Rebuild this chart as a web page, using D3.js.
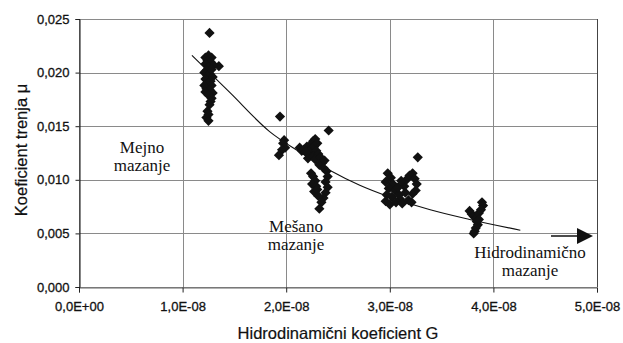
<!DOCTYPE html>
<html>
<head>
<meta charset="utf-8">
<script src="https://cdn.jsdelivr.net/npm/d3@7"></script>
<style>
  body { margin: 0; background: #fff; }
  svg { display: block; }
</style>
</head>
<body>
<svg width="623" height="343"></svg>
<script>
var boundaryPts = [
    [1.26,0.0237],[1.35,0.0206],
    [1.22,0.0214],[1.25,0.0216],[1.28,0.0214],[1.24,0.0211],[1.27,0.0210],[1.22,0.0208],
    [1.30,0.0207],[1.25,0.0205],[1.23,0.0202],[1.28,0.0203],[1.21,0.0200],[1.26,0.0199],
    [1.24,0.0197],[1.29,0.0196],[1.22,0.0194],[1.27,0.0192],[1.25,0.0190],[1.21,0.0188],
    [1.28,0.0188],[1.23,0.0185],[1.26,0.0184],[1.22,0.0182],[1.29,0.0181],[1.25,0.0179],
    [1.28,0.0176],[1.27,0.0173],[1.26,0.0170],[1.24,0.0164],[1.25,0.0161],[1.23,0.0158],
    [1.25,0.0155]
];
var mixedPts = [
    [1.94,0.0159],[1.98,0.0137],[1.97,0.0134],[1.99,0.0130],[1.96,0.0128],[1.93,0.0123],
    [2.13,0.0130],[2.15,0.0127],[2.17,0.0128],[2.20,0.0131],[2.22,0.0127],[2.24,0.0133],
    [2.26,0.0136],[2.28,0.0138],[2.23,0.0124],[2.19,0.0126],[2.25,0.0129],[2.27,0.0131],
    [2.30,0.0134],[2.29,0.0127],[2.21,0.0120],[2.26,0.0122],[2.31,0.0124],[2.28,0.0119],
    [2.33,0.0121],[2.35,0.0116],[2.32,0.0114],[2.37,0.0118],[2.36,0.0111],[2.41,0.0146],
    [2.39,0.0108],[2.40,0.0103],[2.38,0.0098],[2.40,0.0093],[2.38,0.0088],[2.36,0.0083],
    [2.34,0.0079],[2.24,0.0106],[2.26,0.0103],[2.28,0.0099],[2.25,0.0096],[2.29,0.0094],
    [2.27,0.0089],[2.30,0.0091],[2.31,0.0085],[2.32,0.0073]
];
var transitionPts = [
    [3.27,0.0121],[2.98,0.0106],[3.01,0.0102],[2.96,0.0098],[3.03,0.0096],[2.99,0.0092],
    [3.05,0.0090],[2.97,0.0086],[3.02,0.0084],[2.96,0.0080],[3.00,0.0077],[3.06,0.0079],
    [3.10,0.0082],[3.12,0.0078],[3.09,0.0086],[3.14,0.0094],[3.16,0.0100],[3.19,0.0104],
    [3.22,0.0106],[3.24,0.0101],[3.26,0.0096],[3.25,0.0090],[3.22,0.0087],[3.18,0.0081],
    [3.21,0.0079],[3.15,0.0088],[3.08,0.0093],[3.11,0.0099]
];
var hydroPts = [
    [3.77,0.0071],[3.79,0.0068],[3.81,0.0066],[3.83,0.0064],[3.89,0.0079],[3.90,0.0076],
    [3.88,0.0072],[3.86,0.0069],[3.84,0.0061],[3.85,0.0058],[3.83,0.0055],[3.82,0.0052],
    [3.81,0.0050],[3.86,0.0063]
];
// trend line
var trendG  = [1.09, 1.46, 1.84, 2.13, 2.42, 2.71, 3.00, 3.39, 3.77, 4.26];
var trendMu = [0.0216, 0.0181, 0.0145, 0.0126, 0.0109, 0.0095, 0.0084, 0.0072, 0.0063, 0.0053];

var xTicks = [0, 1e-8, 2e-8, 3e-8, 4e-8, 5e-8];
var yTicks = [0, 0.005, 0.010, 0.015, 0.020, 0.025];

var svg = d3.select("svg");
var plotL = 79, plotR = 597, plotT = 19, plotB = 287;
var sans = "Arial, 'Liberation Sans', sans-serif";

var x = d3.scaleLinear().domain([0, 5e-8]).range([plotL, plotR]);
var y = d3.scaleLinear().domain([0, 0.025]).range([plotB, plotT]);

function fmtX(d) {
    if (d === 0) return "0,0E+00";
    var s = d.toExponential(1).split("e");
    var e = +s[1];
    return s[0].replace(".", ",") + "E" + (e < 0 ? "-" : "+") + String(Math.abs(e)).padStart(2, "0");
}
function fmtY(d) { return d3.format(".3f")(d).replace(".", ","); }

// grid
var grid = svg.append("g").attr("shape-rendering", "crispEdges");
grid.selectAll(".gx").data(xTicks).enter().append("line")
    .attr("x1", d => x(d) + 0.5).attr("x2", d => x(d) + 0.5)
    .attr("y1", plotT).attr("y2", plotB)
    .attr("stroke", "#8a8a8a").attr("stroke-width", 1);
grid.selectAll(".gy").data(yTicks).enter().append("line")
    .attr("x1", plotL).attr("x2", plotR)
    .attr("y1", d => y(d) + 0.5).attr("y2", d => y(d) + 0.5)
    .attr("stroke", "#8a8a8a").attr("stroke-width", 1);

// axes
var xAxis = d3.axisBottom(x).tickValues(xTicks).tickFormat(fmtX).tickSize(5).tickPadding(9);
var yAxis = d3.axisLeft(y).tickValues(yTicks).tickFormat(fmtY).tickSize(4).tickPadding(6);

var gx = svg.append("g").attr("transform", "translate(0," + (plotB + 0.5) + ")").call(xAxis);
var gy = svg.append("g").attr("transform", "translate(" + (plotL + 0.5) + ",0)").call(yAxis);
[gx, gy].forEach(function(g) {
    g.attr("font-family", sans).attr("font-size", 13);
    g.selectAll("text").attr("fill", "#111").attr("stroke", "#111").attr("stroke-width", 0.3);
    g.selectAll("line").attr("stroke", "#222");
});
gx.select(".domain").attr("stroke", "#666");
gy.select(".domain").attr("stroke", "#111");
svg.append("line").attr("x1", plotR + 0.5).attr("x2", plotR + 0.5).attr("y1", plotT).attr("y2", plotB)
    .attr("stroke", "#444");

// trend line
var trend = trendG.map((g, i) => [g * 1e-8, trendMu[i]]);
svg.append("path")
    .datum(trend)
    .attr("fill", "none")
    .attr("stroke", "#111")
    .attr("stroke-width", 1.1)
    .attr("d", d3.line().x(d => x(d[0])).y(d => y(d[1])).curve(d3.curveMonotoneX));

// points
var allPts = boundaryPts.concat(mixedPts, transitionPts, hydroPts);
svg.append("g").selectAll("path").data(allPts).enter().append("path")
    .attr("d", d3.symbol(d3.symbolSquare, 52))
    .attr("transform", d => "translate(" + x(d[0] * 1e-8) + "," + y(d[1]) + ") rotate(45)")
    .attr("fill", "#111");

// regime labels
var serif = "'Times New Roman', 'Liberation Serif', serif";
function label(lines, cx, by) {
    var t = svg.append("text").attr("font-family", serif).attr("font-size", 17)
        .attr("fill", "#111").attr("text-anchor", "middle");
    lines.forEach(function(s, i) {
        t.append("tspan").attr("x", cx).attr("y", by + i * 18).text(s);
    });
}
label(["Mejno", "mazanje"], 142, 153);
label(["Mešano", "mazanje"], 296, 232);
label(["Hidrodinamično", "mazanje"], 530, 258);

// arrow
svg.append("line").attr("x1", 551).attr("x2", 580).attr("y1", 236).attr("y2", 236)
    .attr("stroke", "#111").attr("stroke-width", 1.5);
svg.append("path").attr("d", "M577,228L593,236L577,244Z").attr("fill", "#111");

// axis titles
svg.append("text")
    .attr("transform", "translate(27,150) rotate(-90)")
    .attr("text-anchor", "middle")
    .attr("font-family", sans)
    .attr("font-size", 16.5).attr("fill", "#111")
    .attr("stroke", "#111").attr("stroke-width", 0.2)
    .text("Koeficient trenja μ");
svg.append("text")
    .attr("x", 338).attr("y", 339)
    .attr("text-anchor", "middle")
    .attr("font-family", sans)
    .attr("font-size", 16.5).attr("fill", "#111")
    .attr("stroke", "#111").attr("stroke-width", 0.2)
    .text("Hidrodinamični koeficient G");
</script>
</body>
</html>
